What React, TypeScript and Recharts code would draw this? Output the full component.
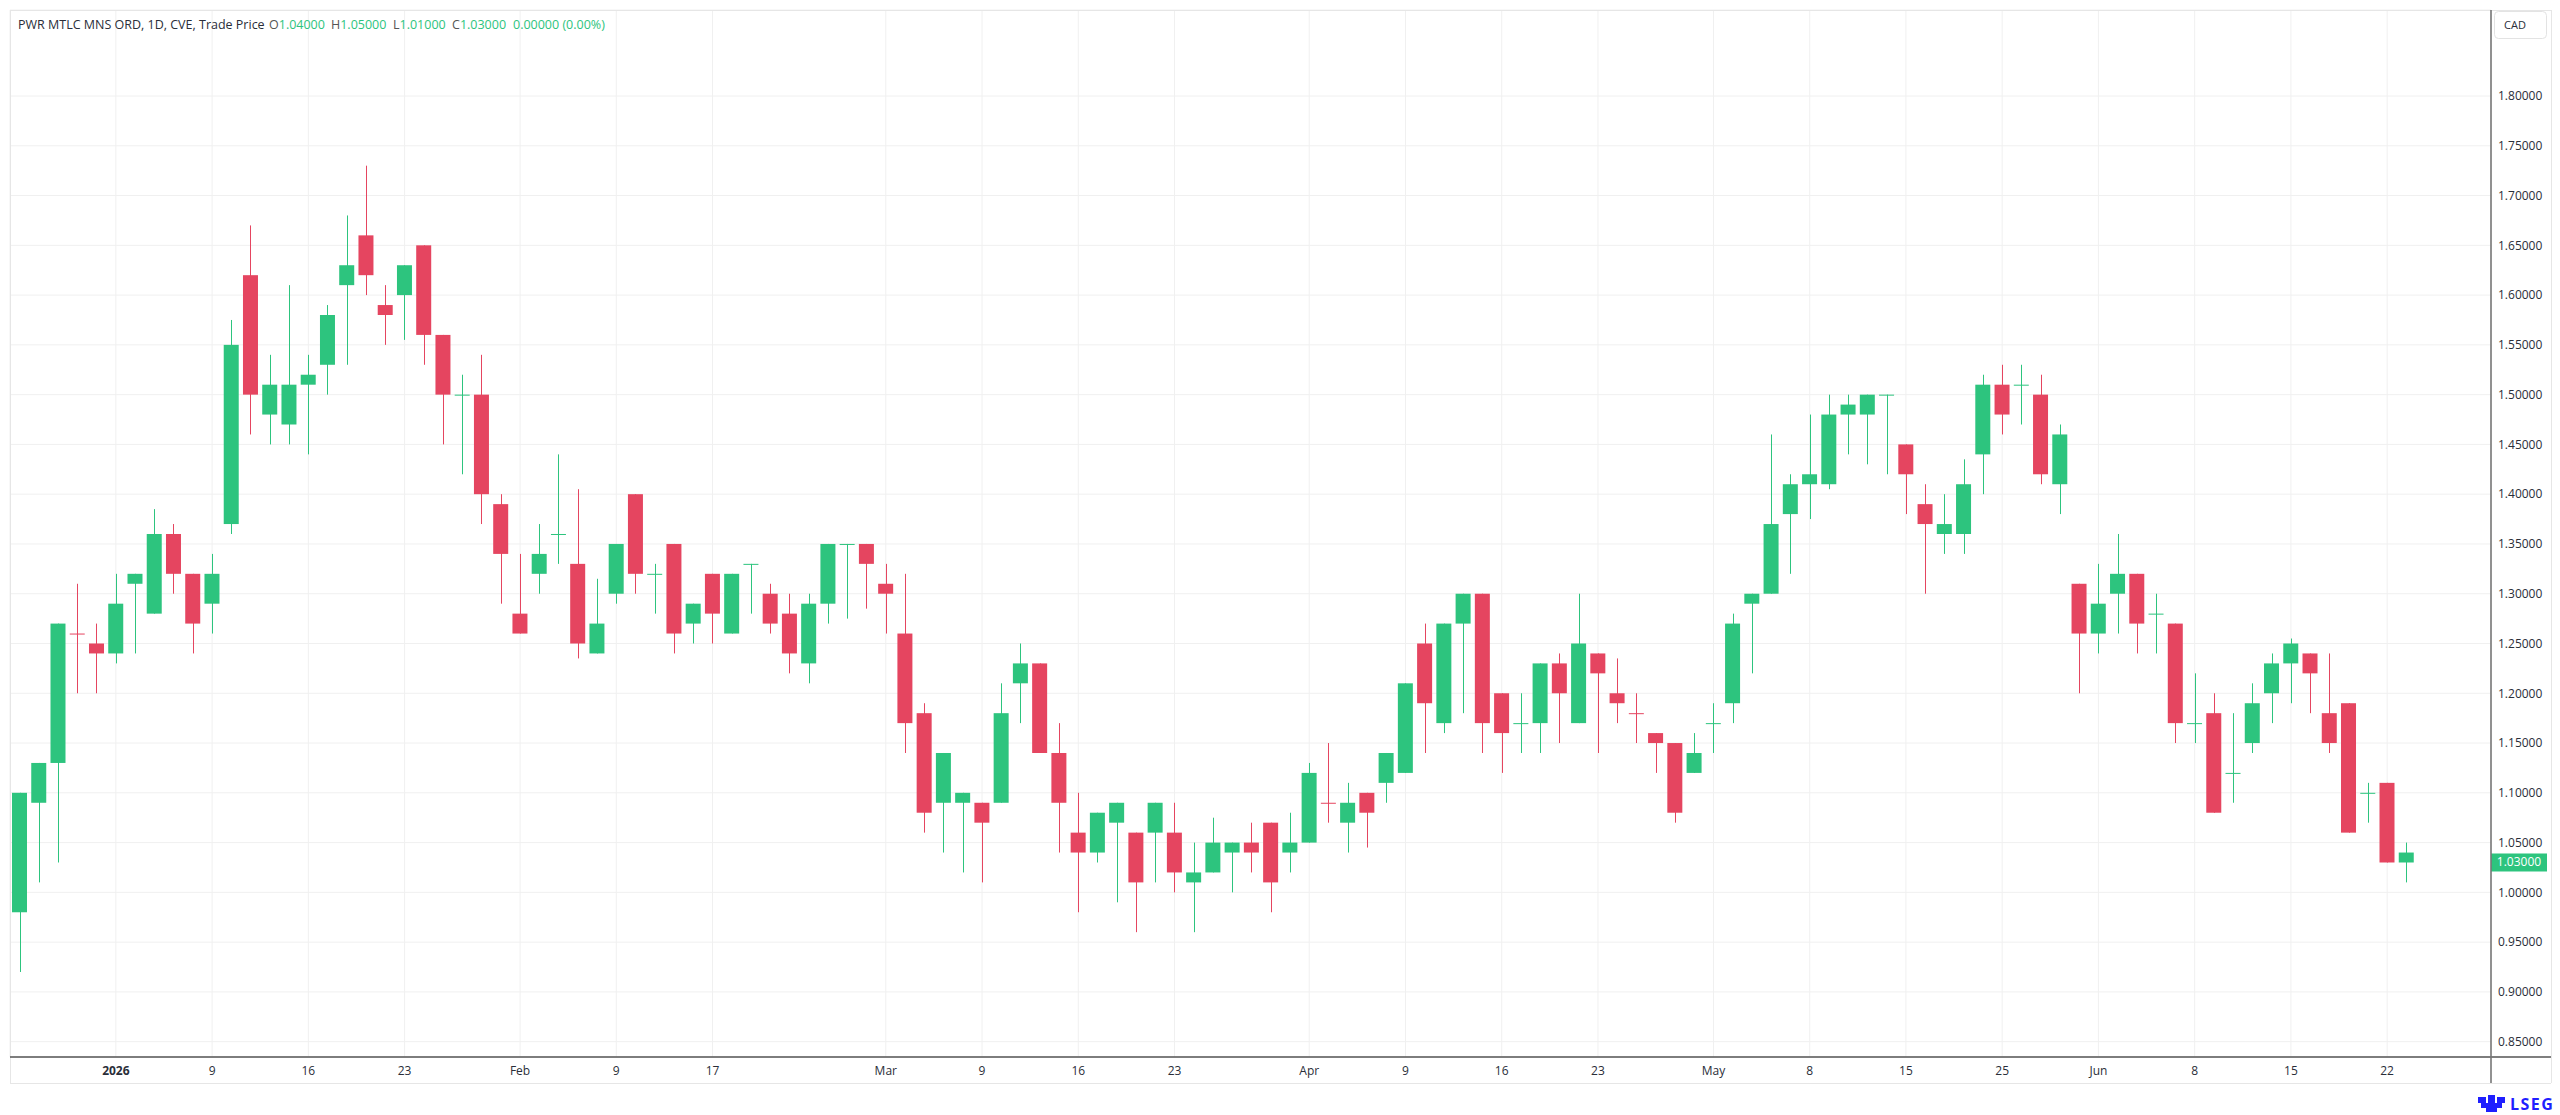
import React from 'react';
import {
  ComposedChart,
  Bar,
  XAxis,
  YAxis,
  CartesianGrid,
  ReferenceLine,
} from 'recharts';

// trading sessions shown on the chart (TSX Venture calendar)
const sessionDays: [string, number[]][] = [
  ['2025-12', [23, 24, 29, 30, 31]],
  ['2026-01', [2, 5, 6, 7, 8, 9, 12, 13, 14, 15, 16, 19, 20, 21, 22, 23, 26, 27, 28, 29, 30]],
  ['2026-02', [2, 3, 4, 5, 6, 9, 10, 11, 12, 13, 17, 18, 19, 20, 23, 24, 25, 26, 27]],
  ['2026-03', [2, 3, 4, 5, 6, 9, 10, 11, 12, 13, 16, 17, 18, 19, 20, 23, 24, 25, 26, 27, 30, 31]],
  ['2026-04', [1, 2, 6, 7, 8, 9, 10, 13, 14, 15, 16, 17, 20, 21, 22, 23, 24, 27, 28, 29, 30]],
  ['2026-05', [1, 4, 5, 6, 7, 8, 11, 12, 13, 14, 15, 19, 20, 21, 22, 25, 26, 27, 28, 29]],
  ['2026-06', [1, 2, 3, 4, 5, 8, 9, 10, 11, 12, 15, 16, 17, 18, 19, 22, 23]],
];

const opens = [
  0.98, 1.09, 1.13, 1.26, 1.25, 1.24, 1.31, 1.28, 1.36, 1.32, 1.29, 1.37, 1.62, 1.48, 1.47, 1.51,
  1.53, 1.61, 1.66, 1.59, 1.6, 1.65, 1.56, 1.5, 1.5, 1.39, 1.28, 1.32, 1.36, 1.33, 1.24, 1.3,
  1.4, 1.32, 1.35, 1.27, 1.32, 1.26, 1.33, 1.3, 1.28, 1.23, 1.29, 1.35, 1.35, 1.31, 1.26, 1.18,
  1.09, 1.09, 1.09, 1.09, 1.21, 1.23, 1.14, 1.06, 1.04, 1.07, 1.06, 1.06, 1.06, 1.01, 1.02, 1.04,
  1.05, 1.07, 1.04, 1.05, 1.09, 1.07, 1.1, 1.11, 1.12, 1.25, 1.17, 1.27, 1.3, 1.2, 1.17, 1.17,
  1.23, 1.17, 1.24, 1.2, 1.18, 1.16, 1.15, 1.12, 1.17, 1.19, 1.29, 1.3, 1.38, 1.41, 1.41, 1.48,
  1.48, 1.5, 1.45, 1.39, 1.36, 1.36, 1.44, 1.51, 1.51, 1.5, 1.41, 1.31, 1.26, 1.3, 1.32, 1.28,
  1.27, 1.17, 1.18, 1.12, 1.15, 1.2, 1.23, 1.24, 1.18, 1.19, 1.1, 1.11, 1.04,
];
const highs = [
  1.1, 1.13, 1.27, 1.31, 1.27, 1.32, 1.32, 1.385, 1.37, 1.32, 1.34, 1.575, 1.67, 1.54, 1.61, 1.54,
  1.59, 1.68, 1.73, 1.61, 1.63, 1.65, 1.56, 1.52, 1.54, 1.4, 1.34, 1.37, 1.44, 1.405, 1.315, 1.35,
  1.4, 1.33, 1.35, 1.29, 1.32, 1.32, 1.33, 1.31, 1.3, 1.3, 1.35, 1.35, 1.35, 1.33, 1.32, 1.19,
  1.14, 1.1, 1.09, 1.21, 1.25, 1.23, 1.17, 1.1, 1.08, 1.09, 1.06, 1.09, 1.09, 1.05, 1.075, 1.05,
  1.07, 1.07, 1.08, 1.13, 1.15, 1.11, 1.1, 1.14, 1.21, 1.27, 1.27, 1.3, 1.3, 1.2, 1.2, 1.23,
  1.24, 1.3, 1.24, 1.235, 1.2, 1.16, 1.15, 1.16, 1.19, 1.28, 1.3, 1.46, 1.42, 1.48, 1.5, 1.5,
  1.5, 1.5, 1.45, 1.41, 1.4, 1.435, 1.52, 1.53, 1.53, 1.52, 1.47, 1.31, 1.33, 1.36, 1.32, 1.3,
  1.27, 1.22, 1.2, 1.18, 1.21, 1.24, 1.255, 1.24, 1.24, 1.19, 1.11, 1.11, 1.05,
];
const lows = [
  0.92, 1.01, 1.03, 1.2, 1.2, 1.23, 1.24, 1.28, 1.3, 1.24, 1.26, 1.36, 1.46, 1.45, 1.45, 1.44,
  1.5, 1.53, 1.6, 1.55, 1.555, 1.53, 1.45, 1.42, 1.37, 1.29, 1.26, 1.3, 1.33, 1.235, 1.24, 1.29,
  1.3, 1.28, 1.24, 1.25, 1.25, 1.26, 1.28, 1.26, 1.22, 1.21, 1.27, 1.275, 1.285, 1.26, 1.14, 1.06,
  1.04, 1.02, 1.01, 1.09, 1.17, 1.14, 1.04, 0.98, 1.03, 0.99, 0.96, 1.01, 1.0, 0.96, 1.02, 1.0,
  1.02, 0.98, 1.02, 1.05, 1.07, 1.04, 1.045, 1.09, 1.12, 1.14, 1.16, 1.18, 1.14, 1.12, 1.14, 1.14,
  1.15, 1.17, 1.14, 1.17, 1.15, 1.12, 1.07, 1.12, 1.14, 1.17, 1.22, 1.3, 1.32, 1.375, 1.405, 1.44,
  1.43, 1.42, 1.38, 1.3, 1.34, 1.34, 1.4, 1.46, 1.47, 1.41, 1.38, 1.2, 1.24, 1.26, 1.24, 1.24,
  1.15, 1.15, 1.08, 1.09, 1.14, 1.17, 1.19, 1.18, 1.14, 1.06, 1.07, 1.03, 1.01,
];
const closes = [
  1.1, 1.13, 1.27, 1.26, 1.24, 1.29, 1.32, 1.36, 1.32, 1.27, 1.32, 1.55, 1.5, 1.51, 1.51, 1.52,
  1.58, 1.63, 1.62, 1.58, 1.63, 1.56, 1.5, 1.5, 1.4, 1.34, 1.26, 1.34, 1.36, 1.25, 1.27, 1.35,
  1.32, 1.32, 1.26, 1.29, 1.28, 1.32, 1.33, 1.27, 1.24, 1.29, 1.35, 1.35, 1.33, 1.3, 1.17, 1.08,
  1.14, 1.1, 1.07, 1.18, 1.23, 1.14, 1.09, 1.04, 1.08, 1.09, 1.01, 1.09, 1.02, 1.02, 1.05, 1.05,
  1.04, 1.01, 1.05, 1.12, 1.09, 1.09, 1.08, 1.14, 1.21, 1.19, 1.27, 1.3, 1.17, 1.16, 1.17, 1.23,
  1.2, 1.25, 1.22, 1.19, 1.18, 1.15, 1.08, 1.14, 1.17, 1.27, 1.3, 1.37, 1.41, 1.42, 1.48, 1.49,
  1.5, 1.5, 1.42, 1.37, 1.37, 1.41, 1.51, 1.48, 1.51, 1.42, 1.46, 1.26, 1.29, 1.32, 1.27, 1.28,
  1.17, 1.17, 1.08, 1.12, 1.19, 1.23, 1.25, 1.22, 1.15, 1.06, 1.1, 1.03, 1.03,
];

const tickDates = [
  '2026-01-02', '2026-01-09', '2026-01-16', '2026-01-23', '2026-02-02', '2026-02-09', '2026-02-17',
  '2026-03-02', '2026-03-09', '2026-03-16', '2026-03-23', '2026-04-01', '2026-04-09', '2026-04-16',
  '2026-04-23', '2026-05-01', '2026-05-08', '2026-05-15', '2026-05-25', '2026-06-01', '2026-06-08',
  '2026-06-15', '2026-06-22',
];
const tickLabels = [
  '2026', '9', '16', '23', 'Feb', '9', '17', 'Mar', '9', '16', '23', 'Apr', '9', '16', '23', 'May',
  '8', '15', '25', 'Jun', '8', '15', '22',
];
const priceTicks = [
  0.85, 0.9, 0.95, 1.0, 1.05, 1.1, 1.15, 1.2, 1.25, 1.3, 1.35, 1.4, 1.45, 1.5, 1.55, 1.6, 1.65,
  1.7, 1.75, 1.8,
];

const UP = '#2dc47e';
const DOWN = '#e54560';
const TEXT = '#2a2e39';
const LABEL = '#555';

const dates = sessionDays.flatMap(([month, days]) =>
  days.map((d) => `${month}-${String(d).padStart(2, '0')}`)
);

const candles = dates.map((date, i) => {
  const o = opens[i];
  const c = closes[i];
  const prev = i > 0 ? closes[i - 1] : o;
  // flat sessions (and the live session) are coloured against the previous close
  const rising = c === o || i === dates.length - 1 ? c >= prev : c > o;
  return { date, o, h: highs[i], l: lows[i], c, rising };
});

const last = candles[candles.length - 1];

const Candle = (props: any) => {
  const { x, y, width, height, payload } = props;
  if (x == null || y == null) return null;
  const top = Math.min(y, y + height);
  const span = Math.abs(height);
  const k = payload.h - payload.l > 0 ? span / (payload.h - payload.l) : 0;
  const yOf = (v: number) => top + (payload.h - v) * k;
  const color = payload.rising ? UP : DOWN;
  const cx = Math.round(x + width / 2) + 0.5;
  const bodyTop = yOf(Math.max(payload.o, payload.c));
  const bodyH = Math.max(1, yOf(Math.min(payload.o, payload.c)) - bodyTop);
  return (
    <g>
      <line x1={cx} x2={cx} y1={top} y2={top + span} stroke={color} strokeWidth={1} />
      <rect x={x} y={bodyTop} width={width} height={bodyH} fill={color} />
    </g>
  );
};

const DateTick = (props: any) => {
  const { x, y, payload } = props;
  const idx = tickDates.indexOf(payload.value);
  const label = idx >= 0 ? tickLabels[idx] : '';
  return (
    <text
      x={x}
      y={y + 18}
      textAnchor="middle"
      fontSize={12}
      fill={TEXT}
      fontWeight={label === '2026' ? 700 : 400}
    >
      {label}
    </text>
  );
};

const PriceTag = (props: any) => {
  const vb = props.viewBox;
  if (!vb) return null;
  const x = vb.x + vb.width;
  return (
    <g>
      <rect x={x} y={vb.y - 9} width={56} height={18} fill={UP} />
      <text x={x + 28} y={vb.y + 4} textAnchor="middle" fontSize={12} fill="#fff">
        {last.c.toFixed(5)}
      </text>
    </g>
  );
};

const App = () => {
  return (
    <div
      style={{
        position: 'absolute',
        left: 0,
        top: 0,
        width: 2560,
        height: 1115,
        background: '#fff',
        fontFamily: '"Open Sans", "DejaVu Sans", sans-serif',
      }}
    >
      <ComposedChart
        width={2560}
        height={1115}
        data={candles}
        margin={{ top: 10, right: 0, bottom: 0, left: 10 }}
      >
        <CartesianGrid stroke="#f0f0f0" />
        <XAxis
          dataKey="date"
          type="category"
          ticks={tickDates}
          interval={0}
          padding={{ left: 0, right: 75 }}
          height={58}
          axisLine={false}
          tickLine={false}
          tickSize={0}
          tickMargin={0}
          tick={<DateTick />}
        />
        <YAxis
          orientation="right"
          width={69}
          type="number"
          domain={[0.8346, 1.8864]}
          allowDataOverflow
          ticks={priceTicks}
          interval={0}
          axisLine={false}
          tickLine={false}
          tickSize={0}
          tickMargin={7}
          tick={{ fontSize: 12, fill: TEXT }}
          tickFormatter={(v: number) => v.toFixed(5)}
        />
        <Bar
          dataKey={(d: any) => [d.l, d.h]}
          barSize={15}
          shape={<Candle />}
          isAnimationActive={false}
        />
        <ReferenceLine y={last.c} stroke="none" label={<PriceTag />} />
      </ComposedChart>

      <svg
        width={2560}
        height={1115}
        style={{ position: 'absolute', left: 0, top: 0, pointerEvents: 'none' }}
      >
        <g stroke="#e6e6e6" strokeWidth={1}>
          <line x1={10} x2={2551} y1={10.5} y2={10.5} />
          <line x1={10.5} x2={10.5} y1={10} y2={1083} />
          <line x1={2551.5} x2={2551.5} y1={10} y2={1083} />
          <line x1={10} x2={2551} y1={1083.5} y2={1083.5} />
        </g>
        <line x1={10} x2={2551} y1={1057} y2={1057} stroke="#555" strokeWidth={1.6} />
        <line x1={2491} x2={2491} y1={10} y2={1083} stroke="#777" strokeWidth={1.6} />

        <g fontSize={12.5}>
          <text x={18} y={28.5} fill={TEXT}>
            PWR MTLC MNS ORD, 1D, CVE, Trade Price
          </text>
          <text x={269} y={28.5} fill={LABEL}>
            O<tspan fill={UP}>{last.o.toFixed(5)}</tspan>
          </text>
          <text x={331} y={28.5} fill={LABEL}>
            H<tspan fill={UP}>{last.h.toFixed(5)}</tspan>
          </text>
          <text x={393} y={28.5} fill={LABEL}>
            L<tspan fill={UP}>{last.l.toFixed(5)}</tspan>
          </text>
          <text x={452} y={28.5} fill={LABEL}>
            C<tspan fill={UP}>{last.c.toFixed(5)}</tspan>
          </text>
          <text x={513} y={28.5} fill={UP}>
            0.00000 (0.00%)
          </text>
        </g>

        <rect x={2494.5} y={11.5} width={52} height={27} rx={4} fill="#fff" stroke="#e3e3e3" />
        <text x={2515} y={29} textAnchor="middle" fontSize={11} fill={TEXT}>
          CAD
        </text>

        <g fill="#1f1fff">
          <rect x={2478} y={1097} width={8} height={6} />
          <rect x={2488} y={1095} width={7} height={8} />
          <rect x={2497} y={1097} width={8} height={6} />
          <rect x={2481} y={1103} width={21} height={5} />
          <rect x={2486} y={1108} width={11} height={4} />
          <text x={2510} y={1110} fontSize={16} fontWeight={700} letterSpacing={1.5}>
            LSEG
          </text>
        </g>
      </svg>
    </div>
  );
};

export default App;
